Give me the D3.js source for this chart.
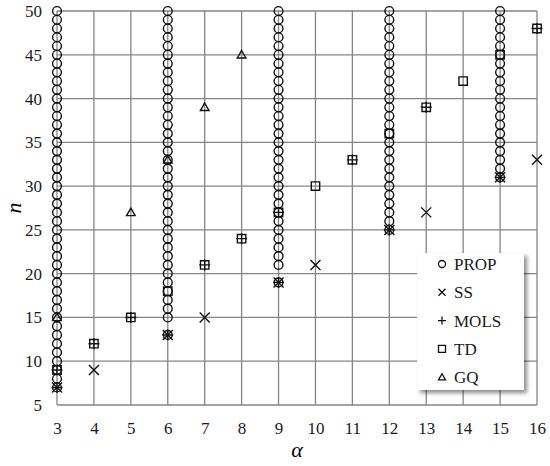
<!DOCTYPE html>
<html>
<head>
<meta charset="utf-8">
<script src="https://cdn.jsdelivr.net/npm/d3@7/dist/d3.min.js"></script>
<style>
  body { margin: 0; background: #fff; }
  svg text { font-family: 'Liberation Serif', 'Times New Roman', serif; }
</style>
</head>
<body>
<svg id="mainsvg" width="550" height="466"></svg>
<script>
// x ticks and y ticks
var alphaTicks = [3,4,5,6,7,8,9,10,11,12,13,14,15,16];
var nTicks = [5,10,15,20,25,30,35,40,45,50];

// PROP: one column of n values for each alpha
var propAlpha = [3, 6, 9, 12, 15];
var propN = [
  [7,8,9,10,11,12,13,14,15,16,17,18,19,20,21,22,23,24,25,26,27,28,29,30,31,32,33,34,35,36,37,38,39,40,41,42,43,44,45,46,47,48,49,50],
  [13,15,16,17,18,19,20,21,22,23,24,25,26,27,28,29,30,31,32,33,34,35,36,37,38,39,40,41,42,43,44,45,46,47,48,49,50],
  [19,21,22,23,24,25,26,27,28,29,30,31,32,33,34,35,36,37,38,39,40,41,42,43,44,45,46,47,48,49,50],
  [25,26,27,28,29,30,31,32,33,34,35,36,37,38,39,40,41,42,43,44,45,46,47,48,49,50],
  [31,32,33,34,35,36,37,38,39,40,41,42,43,44,45,46,47,48,49,50]
];

// SS
var ssAlpha = [3, 4, 6, 7, 9, 10, 12, 13, 15, 16];
var ssN     = [7, 9, 13, 15, 19, 21, 25, 27, 31, 33];

// MOLS
var molsAlpha = [3, 3, 4, 5, 6, 7, 8, 9, 9, 11, 12, 13, 15, 16];
var molsN     = [7, 9, 12, 15, 13, 21, 24, 19, 27, 33, 25, 39, 31, 48];

// TD
var tdAlpha = [3, 4, 5, 6, 7, 8, 9, 10, 11, 12, 13, 14, 15, 16];
var tdN     = [9, 12, 15, 18, 21, 24, 27, 30, 33, 36, 39, 42, 45, 48];

// GQ
var gqAlpha = [3, 5, 6, 7, 8];
var gqN     = [15, 27, 33, 39, 45];

var legendLabels = ["PROP", "SS", "MOLS", "TD", "GQ"];

var serif = "'Liberation Serif', 'Times New Roman', serif";

var svg = d3.select("#mainsvg");
var margin = {left: 57, right: 13, top: 11, bottom: 61};
var width = 550 - margin.left - margin.right;
var height = 466 - margin.top - margin.bottom;

var x = d3.scaleLinear().domain([3, 16]).range([0, width]);
var y = d3.scaleLinear().domain([5, 50]).range([height, 0]);

var g = svg.append("g")
    .attr("transform", "translate(" + margin.left + "," + margin.top + ")");

// grid
var gridColor = "#858585";
g.selectAll(".vgrid").data(alphaTicks).enter().append("line")
    .attr("x1", function(d){ return x(d); })
    .attr("x2", function(d){ return x(d); })
    .attr("y1", 0).attr("y2", height)
    .style("stroke", gridColor).style("stroke-width", 1.3);
g.selectAll(".hgrid").data(nTicks).enter().append("line")
    .attr("x1", 0).attr("x2", width)
    .attr("y1", function(d){ return y(d); })
    .attr("y2", function(d){ return y(d); })
    .style("stroke", gridColor).style("stroke-width", 1.3);

// axes (labels only, lines come from grid)
var xAxis = g.append("g")
    .attr("transform", "translate(0," + height + ")")
    .call(d3.axisBottom(x).tickValues(alphaTicks).tickSize(0).tickPadding(17)
          .tickFormat(d3.format("d")));
var yAxis = g.append("g")
    .call(d3.axisLeft(y).tickValues(nTicks).tickSize(0).tickPadding(15)
          .tickFormat(d3.format("d")));
[xAxis, yAxis].forEach(function(a){
    a.attr("font-family", null).attr("font-size", null);
    a.select(".domain").remove();
    a.selectAll("text")
        .style("font-family", serif)
        .style("font-size", "17px")
        .style("fill", "#1a1a1a");
});

svg.append("text")
    .attr("x", margin.left + width / 2)
    .attr("y", 457)
    .attr("text-anchor", "middle")
    .style("font-family", serif)
    .style("font-style", "italic")
    .style("font-size", "22px")
    .text("α");
svg.append("text")
    .attr("transform", "translate(21," + (margin.top + height / 2) + ") rotate(-90)")
    .attr("text-anchor", "middle")
    .style("font-family", serif)
    .style("font-style", "italic")
    .style("font-size", "22px")
    .text("n");

// marker shapes
function markerPath(kind, s){
    var h = s / 2;
    if(kind === "SS"){
        return "M" + (-h) + "," + (-h) + "L" + h + "," + h +
               "M" + (-h) + "," + h + "L" + h + "," + (-h);
    }
    if(kind === "MOLS"){
        return "M" + (-h) + ",0L" + h + ",0M0," + (-h) + "L0," + h;
    }
    if(kind === "TD"){
        return "M" + (-h) + "," + (-h) + "H" + h + "V" + h + "H" + (-h) + "Z";
    }
    if(kind === "GQ"){
        return "M0," + (-h) + "L" + h + "," + (h * 0.75) + "L" + (-h) + "," + (h * 0.75) + "Z";
    }
    return d3.arc()({innerRadius: 0, outerRadius: h, startAngle: 0, endAngle: 2 * Math.PI});
}

function drawSeries(kind, alphas, ns, size){
    var pts = alphas.map(function(a, i){ return {a: a, n: ns[i]}; });
    g.selectAll(".m-" + kind).data(pts).enter().append("path")
        .attr("class", "m-" + kind)
        .attr("transform", function(d){ return "translate(" + x(d.a) + "," + y(d.n) + ")"; })
        .attr("d", markerPath(kind, size))
        .style("fill", "none")
        .style("stroke", "#111")
        .style("stroke-width", 1.4);
}

var propA = [], propV = [];
propAlpha.forEach(function(a, i){
    propN[i].forEach(function(n){ propA.push(a); propV.push(n); });
});

drawSeries("PROP", propA, propV, 8.8);
drawSeries("TD", tdAlpha, tdN, 8.4);
drawSeries("GQ", gqAlpha, gqN, 8.6);
drawSeries("SS", ssAlpha, ssN, 10);
drawSeries("MOLS", molsAlpha, molsN, 11);

// legend
var defs = svg.append("defs");
var filter = defs.append("filter").attr("id", "shadow")
    .attr("x", "-10%").attr("y", "-10%").attr("width", "130%").attr("height", "130%");
filter.append("feDropShadow")
    .attr("dx", 3).attr("dy", 3).attr("stdDeviation", 2)
    .attr("flood-color", "#000").attr("flood-opacity", 0.45);

var legend = svg.append("g").attr("transform", "translate(417,253)");
legend.append("rect")
    .attr("width", 107).attr("height", 137)
    .style("fill", "#fff")
    .attr("filter", "url(#shadow)");

var items = legend.selectAll(".item").data(legendLabels).enter().append("g")
    .attr("transform", function(d, i){ return "translate(0," + (11 + i * 28.3) + ")"; });
items.append("path")
    .attr("transform", "translate(25,0)")
    .attr("d", function(d){ return markerPath(d, d === "MOLS" ? 8 : 7); })
    .style("fill", "none")
    .style("stroke", "#111")
    .style("stroke-width", 1.3);
items.append("text")
    .attr("x", 37)
    .attr("y", 6)
    .style("font-family", serif)
    .style("font-size", "17px")
    .style("fill", "#1a1a1a")
    .text(function(d){ return d; });
</script>
</body>
</html>
